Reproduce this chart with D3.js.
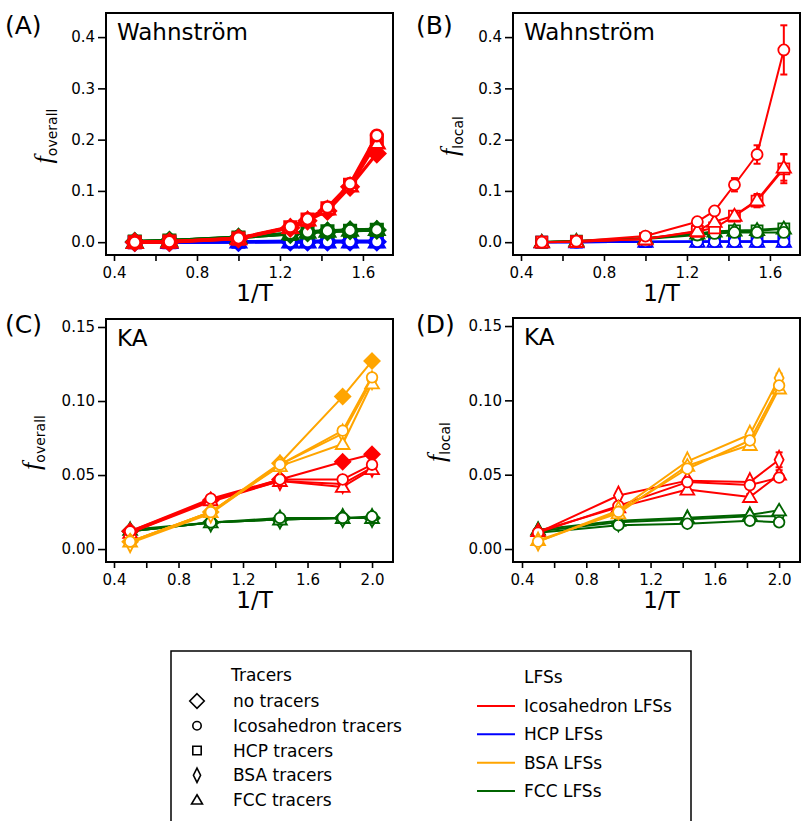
<!DOCTYPE html>
<html>
<head>
<meta charset="utf-8">
<script src="https://cdn.jsdelivr.net/npm/d3@7/dist/d3.min.js"></script>
<style>
  html, body { margin: 0; padding: 0; background: #fff; }
  svg { display: block; }
  text { font-family: "DejaVu Sans", sans-serif; fill: #000; }
</style>
</head>
<body>
<div id="chart"></div>
<script>
// 1/T values for each model
const xWahn = [0.5, 0.667, 1.0, 1.25, 1.333, 1.429, 1.538, 1.667];
const xKA = [0.5, 1.0, 1.429, 1.818, 2.0];

// tick values
const wahnXTicks = [0.4, 0.6, 0.8, 1.0, 1.2, 1.4, 1.6];
const kaXTicks = [0.4, 0.6, 0.8, 1.0, 1.2, 1.4, 1.6, 1.8, 2.0];
const wahnYTicks = [0.0, 0.1, 0.2, 0.3, 0.4];
const kaYTicks = [0.00, 0.05, 0.10, 0.15];

// tracer types (rows of each LFS array below follow these)
const tracersA = ['none', 'ico', 'hcp', 'fcc'];
const tracersB = ['ico', 'hcp', 'fcc'];
const tracersC = ['none', 'ico', 'bsa', 'fcc'];
const tracersD = ['ico', 'bsa', 'fcc'];

// (A) Wahnström, f_overall
const aIco = [
  [0.000, 0.000, 0.007, 0.028, 0.042, 0.061, 0.108, 0.173],
  [0.000, 0.001, 0.008, 0.030, 0.045, 0.068, 0.114, 0.208],
  [0.000, 0.001, 0.007, 0.029, 0.044, 0.066, 0.112, 0.198],
  [0.000, 0.001, 0.007, 0.029, 0.044, 0.065, 0.110, 0.194]
];
const aHcp = [
  [0.000, 0.000, 0.000, 0.001, 0.001, 0.001, 0.001, 0.001],
  [0.000, 0.000, 0.001, 0.001, 0.001, 0.001, 0.001, 0.001],
  [0.000, 0.000, 0.001, 0.002, 0.002, 0.002, 0.002, 0.002],
  [0.000, 0.000, 0.001, 0.001, 0.001, 0.001, 0.001, 0.001]
];
const aFcc = [
  [0.001, 0.003, 0.009, 0.016, 0.019, 0.021, 0.023, 0.024],
  [0.001, 0.003, 0.010, 0.017, 0.020, 0.022, 0.023, 0.024],
  [0.001, 0.003, 0.009, 0.016, 0.019, 0.021, 0.022, 0.024],
  [0.001, 0.003, 0.010, 0.017, 0.020, 0.022, 0.024, 0.025]
];

// (B) Wahnström, f_local
const bIco = [
  [0.000, 0.002, 0.012, 0.040, 0.061, 0.112, 0.171, 0.375],
  [0.000, 0.001, 0.006, 0.021, 0.028, 0.051, 0.080, 0.143],
  [0.000, 0.001, 0.006, 0.022, 0.040, 0.052, 0.082, 0.146]
];
const bIcoErr = [
  [0, 0, 0.001, 0.003, 0.004, 0.013, 0.018, 0.048],
  [0, 0, 0.001, 0.002, 0.004, 0.008, 0.012, 0.028],
  [0, 0, 0.001, 0.003, 0.004, 0.008, 0.012, 0.026]
];
const bHcp = [
  [0.000, 0.000, 0.001, 0.001, 0.001, 0.001, 0.001, 0.001],
  [0.000, 0.000, 0.001, 0.002, 0.002, 0.002, 0.002, 0.002],
  [0.000, 0.000, 0.001, 0.001, 0.001, 0.001, 0.001, 0.001]
];
const bFcc = [
  [0.000, 0.002, 0.006, 0.014, 0.017, 0.019, 0.019, 0.019],
  [0.000, 0.002, 0.007, 0.016, 0.020, 0.022, 0.022, 0.026],
  [0.001, 0.003, 0.008, 0.017, 0.021, 0.023, 0.024, 0.027]
];

// (C) KA, f_overall
const cIco = [
  [0.012, 0.033, 0.047, 0.059, 0.064],
  [0.012, 0.034, 0.047, 0.047, 0.057],
  [0.011, 0.032, 0.046, 0.044, 0.055],
  [0.011, 0.033, 0.046, 0.042, 0.054]
];
const cBsa = [
  [0.005, 0.025, 0.058, 0.103, 0.127],
  [0.005, 0.025, 0.057, 0.080, 0.116],
  [0.004, 0.024, 0.057, 0.078, 0.114],
  [0.005, 0.025, 0.056, 0.071, 0.112]
];
const cFcc = [
  [0.012, 0.018, 0.020, 0.021, 0.021],
  [0.012, 0.018, 0.021, 0.021, 0.022],
  [0.012, 0.018, 0.020, 0.021, 0.021],
  [0.013, 0.018, 0.020, 0.021, 0.021]
];

// (D) KA, f_local
const dIco = [
  [0.011, 0.029, 0.045, 0.043, 0.048],
  [0.011, 0.036, 0.046, 0.045, 0.060],
  [0.012, 0.028, 0.040, 0.035, 0.050]
];
const dIcoErr = [
  [0.001, 0.002, 0.002, 0.002, 0.002],
  [0.001, 0.002, 0.002, 0.002, 0.005],
  [0.001, 0.002, 0.003, 0.002, 0.003]
];
const dBsa = [
  [0.005, 0.025, 0.054, 0.073, 0.110],
  [0.005, 0.026, 0.059, 0.077, 0.115],
  [0.006, 0.024, 0.056, 0.070, 0.108]
];
const dBsaErr = [
  [0.001, 0.001, 0.002, 0.002, 0.003],
  [0.001, 0.001, 0.002, 0.002, 0.003],
  [0.001, 0.001, 0.002, 0.002, 0.003]
];
const dFcc = [
  [0.011, 0.016, 0.017, 0.019, 0.018],
  [0.012, 0.018, 0.020, 0.022, 0.022],
  [0.013, 0.019, 0.021, 0.023, 0.026]
];

// legend
const tracerNames = ['no tracers', 'Icosahedron tracers', 'HCP tracers', 'BSA tracers', 'FCC tracers'];
const tracerKeys = ['none', 'ico', 'hcp', 'bsa', 'fcc'];
const lfsNames = ['Icosahedron LFSs', 'HCP LFSs', 'BSA LFSs', 'FCC LFSs'];

const colors = { ico: '#ff0000', hcp: '#0000ff', bsa: '#ffa500', fcc: '#006400' };

const width = 801, height = 821;

const svg = d3.select('#chart')
  .append('svg')
    .attr('width', width)
    .attr('height', height);

// marker shapes, centred on 0,0
function markerPath(kind, s) {
  if (kind === 'none') return `M0,${-s * 1.45}L${s * 1.45},0L0,${s * 1.45}L${-s * 1.45},0Z`;
  if (kind === 'ico') return `M${s},0A${s},${s} 0 1,1 ${-s},0A${s},${s} 0 1,1 ${s},0Z`;
  if (kind === 'hcp') return `M${-s},${-s}H${s}V${s}H${-s}Z`;
  if (kind === 'bsa') return `M0,${-s * 1.7}L${s * 0.85},0L0,${s * 1.7}L${-s * 0.85},0Z`;
  // triangle
  return `M0,${-s * 1.25}L${s * 1.3},${s * 0.95}L${-s * 1.3},${s * 0.95}Z`;
}

const panels = [
  { tag: '(A)', tagX: 5, tagY: 34, title: 'Wahnström', sub: 'overall',
    x0: 106, x1: 393, y0: 13, y1: 255, xd: [0.3614, 1.745], yd: [-0.025, 0.447],
    xs: xWahn, xt: wahnXTicks, yt: wahnYTicks, yf: '.1f', labX: 52,
    lw: 3.2, ms: 5.8, mw: 2.5,
    groups: [['hcp', aHcp, null], ['fcc', aFcc, null], ['ico', aIco, null]], tracers: tracersA },
  { tag: '(B)', tagX: 416, tagY: 34, title: 'Wahnström', sub: 'local',
    x0: 513, x1: 800, y0: 13, y1: 255, xd: [0.3614, 1.745], yd: [-0.025, 0.447],
    xs: xWahn, xt: wahnXTicks, yt: wahnYTicks, yf: '.1f', labX: 458,
    lw: 2, ms: 5.5, mw: 1.8,
    groups: [['hcp', bHcp, null], ['fcc', bFcc, null], ['ico', bIco, bIcoErr]], tracers: tracersB },
  { tag: '(C)', tagX: 5, tagY: 333, title: 'KA', sub: 'overall',
    x0: 106, x1: 393, y0: 319, y1: 562, xd: [0.3504, 2.13], yd: [-0.00874, 0.1554],
    xs: xKA, xt: kaXTicks, yt: kaYTicks, yf: '.2f', labX: 40,
    lw: 2, ms: 5.3, mw: 1.8,
    groups: [['fcc', cFcc, null], ['ico', cIco, null], ['bsa', cBsa, null]], tracers: tracersC },
  { tag: '(D)', tagX: 416, tagY: 333, title: 'KA', sub: 'local',
    x0: 513, x1: 800, y0: 318, y1: 562, xd: [0.344, 2.13], yd: [-0.00874, 0.1554],
    xs: xKA, xt: kaXTicks, yt: kaYTicks, yf: '.2f', labX: 445,
    lw: 2, ms: 5.3, mw: 1.8,
    groups: [['fcc', dFcc, null], ['ico', dIco, dIcoErr], ['bsa', dBsa, dBsaErr]], tracers: tracersD }
];

// order tracers are drawn in, circle last (on top)
const drawOrder = ['none', 'hcp', 'bsa', 'fcc', 'ico'];

panels.forEach(p => {
  const g = svg.append('g');

  const x = d3.scaleLinear().domain(p.xd).range([p.x0, p.x1]);
  const y = d3.scaleLinear().domain(p.yd).range([p.y1, p.y0]);

  // x axis below the frame
  const xAxis = d3.axisBottom(x)
    .tickValues(p.xt)
    .tickSize(6)
    .tickPadding(6)
    .tickFormat(v => Math.round(v * 10) % 4 === 0 ? d3.format('.1f')(v) : '');
  const gx = g.append('g')
    .attr('transform', `translate(0,${p.y1})`)
    .call(xAxis);
  gx.select('.domain').remove();
  gx.selectAll('line').attr('stroke-width', 1.6);
  gx.selectAll('text').style('font-size', '15px');

  const yAxis = d3.axisLeft(y)
    .tickValues(p.yt)
    .tickSize(8)
    .tickPadding(3)
    .tickFormat(d3.format(p.yf));
  const gy = g.append('g')
    .attr('transform', `translate(${p.x0},0)`)
    .call(yAxis);
  gy.select('.domain').remove();
  gy.selectAll('line').attr('stroke-width', 1.6);
  gy.selectAll('text').style('font-size', '15px');

  const clipId = 'clip' + p.tag.replace(/\W/g, '');
  g.append('clipPath').attr('id', clipId)
    .append('rect')
      .attr('x', p.x0).attr('y', p.y0)
      .attr('width', p.x1 - p.x0).attr('height', p.y1 - p.y0);

  const plot = g.append('g').attr('clip-path', `url(#${clipId})`);

  const line = d3.line()
    .x(d => x(d[0]))
    .y(d => y(d[1]));

  p.groups.forEach(([lfs, rows, errs]) => {
    const color = colors[lfs];
    const order = drawOrder.filter(t => p.tracers.includes(t));
    order.forEach(tr => {
      const i = p.tracers.indexOf(tr);
      const pts = p.xs.map((xv, j) => [xv, rows[i][j], errs ? errs[i][j] : 0]);

      plot.append('path')
        .datum(pts)
        .attr('d', line)
        .attr('fill', 'none')
        .attr('stroke', color)
        .attr('stroke-width', p.lw)
        .attr('stroke-linejoin', 'round');

      // error bars
      const eb = plot.selectAll(null)
        .data(pts.filter(d => d[2] > 0.0015))
        .enter()
        .append('g')
          .attr('stroke', color)
          .attr('stroke-width', 2);
      eb.append('line')
        .attr('x1', d => x(d[0])).attr('x2', d => x(d[0]))
        .attr('y1', d => y(d[1] - d[2])).attr('y2', d => y(d[1] + d[2]));
      eb.append('line')
        .attr('x1', d => x(d[0]) - 3.5).attr('x2', d => x(d[0]) + 3.5)
        .attr('y1', d => y(d[1] + d[2])).attr('y2', d => y(d[1] + d[2]));
      eb.append('line')
        .attr('x1', d => x(d[0]) - 3.5).attr('x2', d => x(d[0]) + 3.5)
        .attr('y1', d => y(d[1] - d[2])).attr('y2', d => y(d[1] - d[2]));

      plot.selectAll(null)
        .data(pts)
        .enter()
        .append('path')
          .attr('transform', d => `translate(${x(d[0])},${y(d[1])})`)
          .attr('d', markerPath(tr, p.ms))
          .attr('fill', tr === 'none' ? color : '#fff')
          .attr('stroke', color)
          .attr('stroke-width', p.mw);
    });
  });

  // frame
  g.append('rect')
    .attr('x', p.x0).attr('y', p.y0)
    .attr('width', p.x1 - p.x0).attr('height', p.y1 - p.y0)
    .attr('fill', 'none')
    .attr('stroke', '#000')
    .attr('stroke-width', 2);

  g.append('text')
    .attr('x', p.x0 + 11).attr('y', p.y0 + 27)
    .style('font-size', '23px')
    .text(p.title);

  g.append('text')
    .attr('x', p.tagX).attr('y', p.tagY)
    .style('font-size', '25px')
    .text(p.tag);

  g.append('text')
    .attr('x', (p.x0 + p.x1) / 2 + 5)
    .attr('y', p.y1 + 46)
    .attr('text-anchor', 'middle')
    .style('font-size', '23px')
    .text('1/T');

  const yl = g.append('text')
    .attr('transform', `translate(${p.labX},${(p.y0 + p.y1) / 2 + 2}) rotate(-90)`)
    .attr('text-anchor', 'middle');
  yl.append('tspan')
    .style('font-family', '"Liberation Serif", serif')
    .style('font-style', 'italic')
    .style('font-size', '26px')
    .text('f');
  yl.append('tspan')
    .attr('dy', 5)
    .style('font-size', '14px')
    .text(p.sub);
});

// legend
const leg = svg.append('g');
leg.append('rect')
  .attr('x', 171).attr('y', 651)
  .attr('width', 520).attr('height', 200)
  .attr('fill', 'none')
  .attr('stroke', '#000')
  .attr('stroke-width', 1.5);

leg.append('text').attr('x', 231).attr('y', 681).style('font-size', '17px').text('Tracers');
leg.append('text').attr('x', 524).attr('y', 683).style('font-size', '17px').text('LFSs');

const tracerY = d3.scalePoint().domain(tracerKeys).range([701, 800]);
tracerKeys.forEach((k, i) => {
  leg.append('path')
    .attr('transform', `translate(197,${tracerY(k)})`)
    .attr('d', markerPath(k, k === 'none' ? 5 : 4.2))
    .attr('fill', 'none')
    .attr('stroke', '#000')
    .attr('stroke-width', 1.6);
  leg.append('text')
    .attr('x', 233).attr('y', tracerY(k) + 6)
    .style('font-size', '17px')
    .text(tracerNames[i]);
});

const lfsKeys = ['ico', 'hcp', 'bsa', 'fcc'];
const lfsY = d3.scalePoint().domain(lfsKeys).range([706, 791]);
lfsKeys.forEach((k, i) => {
  leg.append('line')
    .attr('x1', 477).attr('x2', 515)
    .attr('y1', lfsY(k)).attr('y2', lfsY(k))
    .attr('stroke', colors[k])
    .attr('stroke-width', 2);
  leg.append('text')
    .attr('x', 524).attr('y', lfsY(k) + 6)
    .style('font-size', '17px')
    .text(lfsNames[i]);
});
</script>
</body>
</html>
